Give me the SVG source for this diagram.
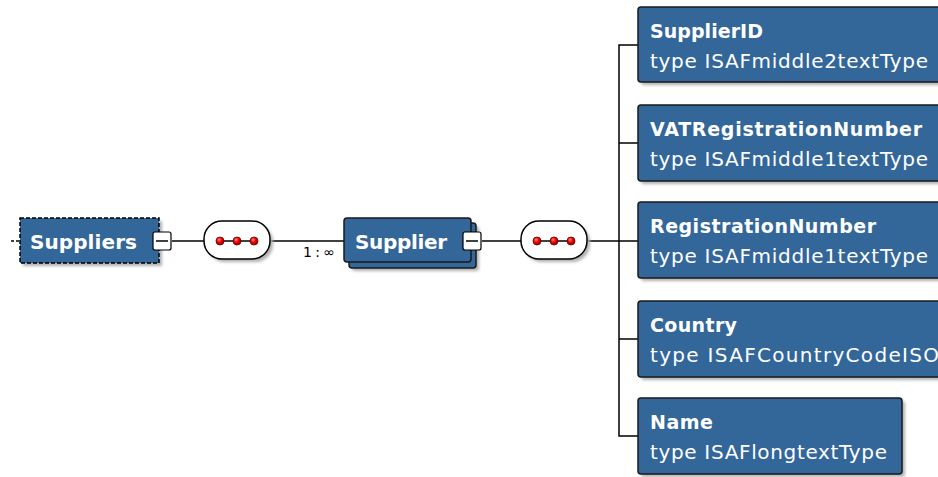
<svg xmlns="http://www.w3.org/2000/svg" width="938" height="477" viewBox="0 0 938 477">
<defs>
<filter id="sh" x="-10%" y="-10%" width="130%" height="140%">
<feGaussianBlur stdDeviation="1.5"/>
</filter>
<radialGradient id="dot" cx="0.4" cy="0.35" r="0.6">
<stop offset="0" stop-color="#ff9a9a"/>
<stop offset="0.5" stop-color="#ff0000"/>
<stop offset="1" stop-color="#b00000"/>
</radialGradient>
</defs>
<style>
.box{fill:#336699;stroke:#1a1a1a;stroke-width:1.5}
.shadow{fill:#b0b0b0;filter:url(#sh)}
.ttl{font-family:"DejaVu Sans",sans-serif;font-weight:bold;font-size:19px;fill:#ffffff}
.typ{font-family:"DejaVu Sans",sans-serif;font-size:20px;fill:#ffffff}
.big{font-family:"DejaVu Sans",sans-serif;font-weight:bold;font-size:20px;fill:#ffffff}
.ln{stroke:#000;stroke-width:1.5;fill:none}
.minus{fill:#fff;stroke:#000;stroke-width:1.2}
.seq{fill:#fff;stroke:#000;stroke-width:1.5}
.dot{fill:url(#dot);stroke:#600;stroke-width:0.8}
.card{font-family:"DejaVu Sans",sans-serif;font-size:14px;fill:#000}
</style>
<rect width="938" height="477" fill="#ffffff"/>
<g id="connectors">
<line class="ln" x1="11" y1="241" x2="20" y2="241" stroke-dasharray="3,2"/>
<line class="ln" x1="172" y1="241" x2="204" y2="241"/>
<line class="ln" x1="270" y1="241" x2="344" y2="241"/>
<line class="ln" x1="482" y1="241" x2="521" y2="241"/>
<line class="ln" x1="587" y1="241" x2="638" y2="241"/>
<polyline class="ln" points="638,45 619,45 619,436 638,436"/>
<line class="ln" x1="619" y1="143" x2="638" y2="143"/>
<line class="ln" x1="619" y1="339" x2="638" y2="339"/>
<text class="card" x="303" y="257" textLength="32">1:∞</text>
</g>
<g id="suppliers">
<rect class="shadow" x="23" y="221" width="139" height="45"/>
<rect x="20" y="218" width="139" height="45" fill="#336699" stroke="#000" stroke-width="1.5" stroke-dasharray="4,2"/>
<text class="big" x="30" y="249" textLength="107">Suppliers</text>
<rect class="minus" x="153" y="232" width="18" height="18" rx="2"/>
<line class="ln" x1="156" y1="241" x2="168" y2="241"/>
</g>
<g id="seq1">
<rect class="shadow" x="207" y="224" width="66" height="38" rx="18"/>
<rect class="seq" x="204" y="221" width="66" height="38" rx="18"/>
<line class="ln" x1="218" y1="241" x2="256" y2="241"/>
<circle class="dot" cx="220" cy="241" r="4"/>
<circle class="dot" cx="237" cy="241" r="4"/>
<circle class="dot" cx="254" cy="241" r="4"/>
</g>
<g id="supplier">
<rect class="shadow" x="352" y="226" width="127" height="45" rx="3"/>
<rect class="box" x="349" y="223" width="127" height="45" rx="3"/>
<rect class="box" x="344" y="218" width="127" height="44" rx="3"/>
<text class="big" x="355" y="249" textLength="92">Supplier</text>
<rect class="minus" x="463" y="232" width="18" height="18" rx="2"/>
<line class="ln" x1="466" y1="241" x2="478" y2="241"/>
</g>
<g id="seq2">
<rect class="shadow" x="524" y="224" width="66" height="38" rx="18"/>
<rect class="seq" x="521" y="221" width="66" height="38" rx="18"/>
<line class="ln" x1="535" y1="241" x2="573" y2="241"/>
<circle class="dot" cx="537" cy="241" r="4"/>
<circle class="dot" cx="554" cy="241" r="4"/>
<circle class="dot" cx="571" cy="241" r="4"/>
</g>
<g id="SupplierID">
<rect class="shadow" x="641" y="10" width="320" height="75" rx="3"/>
<rect class="box" x="638" y="7" width="320" height="75" rx="3"/>
<text class="ttl" x="650" y="38" textLength="113">SupplierID</text>
<text class="typ" x="650" y="68" textLength="278">type ISAFmiddle2textType</text>
</g>
<g id="VATRegistrationNumber">
<rect class="shadow" x="641" y="108" width="320" height="76" rx="3"/>
<rect class="box" x="638" y="105" width="320" height="76" rx="3"/>
<text class="ttl" x="650" y="136" textLength="272">VATRegistrationNumber</text>
<text class="typ" x="650" y="166" textLength="278">type ISAFmiddle1textType</text>
</g>
<g id="RegistrationNumber">
<rect class="shadow" x="641" y="205" width="320" height="76" rx="3"/>
<rect class="box" x="638" y="202" width="320" height="76" rx="3"/>
<text class="ttl" x="650" y="233" textLength="226">RegistrationNumber</text>
<text class="typ" x="650" y="263" textLength="278">type ISAFmiddle1textType</text>
</g>
<g id="Country">
<rect class="shadow" x="641" y="304" width="320" height="76" rx="3"/>
<rect class="box" x="638" y="301" width="320" height="76" rx="3"/>
<text class="ttl" x="650" y="332" textLength="87">Country</text>
<text class="typ" x="650" y="362" textLength="289">type ISAFCountryCodeISO</text>
</g>
<g id="Name">
<rect class="shadow" x="641" y="401" width="264" height="76" rx="3"/>
<rect class="box" x="638" y="398" width="264" height="76" rx="3"/>
<text class="ttl" x="650" y="429" textLength="63">Name</text>
<text class="typ" x="650" y="459" textLength="237">type ISAFlongtextType</text>
</g>
</svg>
